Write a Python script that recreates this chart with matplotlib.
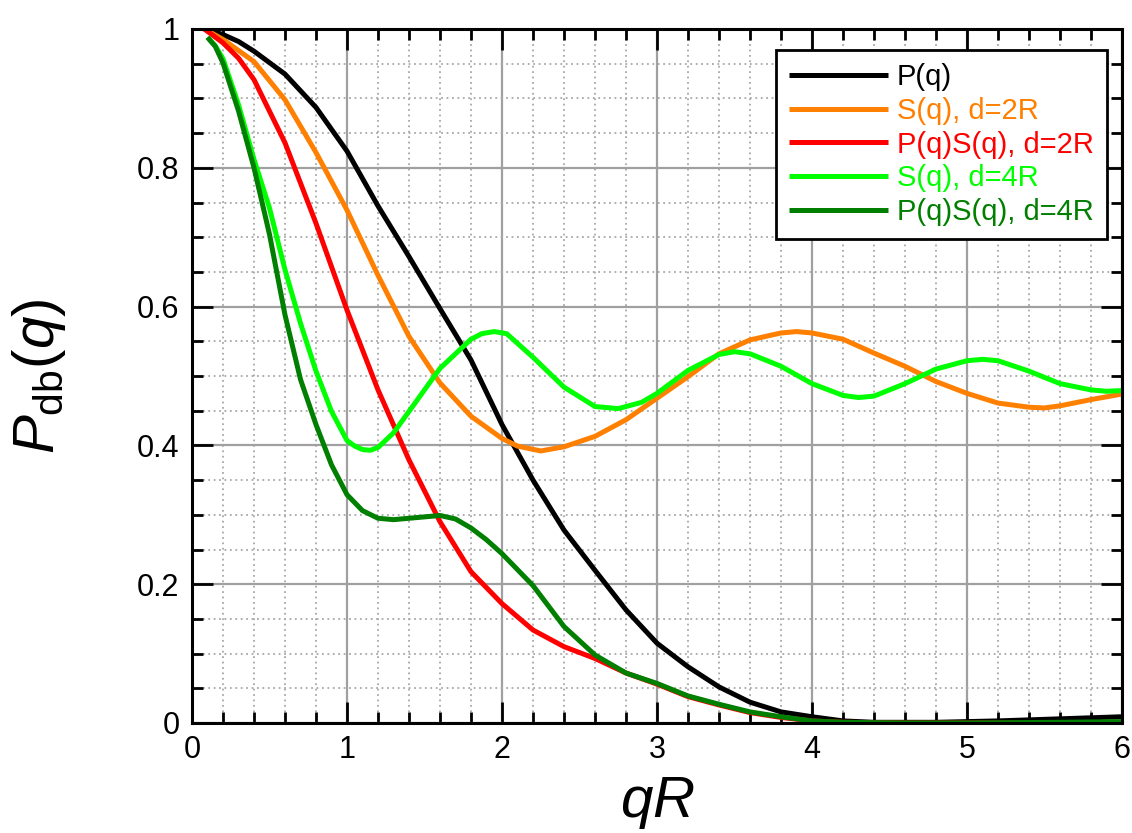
#!/usr/bin/env python3
"""Dumbbell form factor P(q), structure factors S(q) and products vs qR."""
import matplotlib
matplotlib.use("Agg")
import matplotlib.pyplot as plt
from matplotlib.ticker import MultipleLocator, FixedLocator, FuncFormatter

plt.rcParams["font.family"] = ["Liberation Sans", "DejaVu Sans"]
plt.rcParams["mathtext.fontset"] = "custom"
plt.rcParams["mathtext.rm"] = "Liberation Sans"
plt.rcParams["mathtext.it"] = "Liberation Sans:italic"

# values
p_x = [0.08, 0.2, 0.3, 0.4, 0.6, 0.8, 1.0, 1.2, 1.4, 1.6, 1.8, 2.0, 2.2, 2.4,
       2.6, 2.8, 3.0, 3.2, 3.4, 3.6, 3.8, 4.0, 4.2, 4.4, 4.8, 5.2, 5.6, 6.0]
p_y = [1.0, 0.992, 0.982, 0.968, 0.935, 0.887, 0.824, 0.745, 0.672, 0.597,
       0.523, 0.43, 0.35, 0.278, 0.22, 0.163, 0.115, 0.081, 0.052, 0.030,
       0.016, 0.009, 0.003, 0.001, 0.001, 0.003, 0.006, 0.009]

s2_x = [0.08, 0.2, 0.4, 0.6, 0.8, 1.0, 1.2, 1.4, 1.6, 1.8, 2.0, 2.1, 2.25,
        2.4, 2.6, 2.8, 3.0, 3.2, 3.4, 3.6, 3.8, 3.9, 4.0, 4.2, 4.4, 4.6, 4.8,
        5.0, 5.2, 5.4, 5.5, 5.6, 5.8, 6.0]
s2_y = [1.0, 0.985, 0.953, 0.898, 0.822, 0.739, 0.645, 0.557, 0.490, 0.442,
        0.41, 0.399, 0.392, 0.398, 0.413, 0.437, 0.468, 0.499, 0.532, 0.552,
        0.562, 0.564, 0.562, 0.553, 0.533, 0.514, 0.492, 0.475, 0.461, 0.455,
        0.454, 0.457, 0.466, 0.474]

ps2_x = [0.08, 0.2, 0.3, 0.4, 0.6, 0.8, 1.0, 1.2, 1.4, 1.6, 1.8, 2.0, 2.2,
         2.4, 2.6, 2.8, 3.0, 3.2, 3.4, 3.6, 3.8, 4.0, 4.2, 4.6, 5.0, 5.4, 6.0]
ps2_y = [1.0, 0.98, 0.958, 0.927, 0.836, 0.72, 0.595, 0.48, 0.379, 0.29,
         0.218, 0.172, 0.134, 0.11, 0.093, 0.072, 0.056, 0.038, 0.026, 0.015,
         0.008, 0.003, 0.001, 0.0, 0.0, 0.0, 0.001]

s4_x = [0.1, 0.15, 0.2, 0.3, 0.4, 0.5, 0.6, 0.7, 0.8, 0.9, 1.0, 1.05, 1.1,
        1.15, 1.2, 1.3, 1.4, 1.6, 1.8, 1.87, 1.95, 2.03, 2.1, 2.2, 2.4, 2.6,
        2.75, 2.9, 3.0, 3.2, 3.4, 3.5, 3.6, 3.8, 4.0, 4.2, 4.3, 4.4, 4.6, 4.8,
        5.0, 5.1, 5.2, 5.4, 5.6, 5.8, 5.9, 6.0]
s4_y = [0.988, 0.976, 0.957, 0.891, 0.812, 0.742, 0.653, 0.576, 0.507, 0.449,
        0.407, 0.399, 0.394, 0.393, 0.397, 0.418, 0.449, 0.511, 0.553, 0.561,
        0.564, 0.561, 0.547, 0.527, 0.484, 0.456, 0.453, 0.462, 0.475, 0.508,
        0.531, 0.535, 0.532, 0.514, 0.489, 0.472, 0.469, 0.471, 0.489, 0.510,
        0.522, 0.524, 0.522, 0.507, 0.489, 0.480, 0.478, 0.479]

ps4_x = [0.1, 0.15, 0.2, 0.3, 0.4, 0.5, 0.6, 0.7, 0.8, 0.9, 1.0, 1.1, 1.2,
         1.3, 1.4, 1.5, 1.6, 1.7, 1.8, 1.9, 2.0, 2.2, 2.4, 2.6, 2.8, 3.0,
         3.2, 3.4, 3.6, 3.8, 4.0, 4.2, 4.6, 5.0, 5.6, 6.0]
ps4_y = [0.988, 0.975, 0.951, 0.882, 0.80, 0.704, 0.588, 0.495, 0.43, 0.372,
         0.329, 0.306, 0.295, 0.293, 0.295, 0.297, 0.299, 0.294, 0.281, 0.264,
         0.244, 0.198, 0.139, 0.098, 0.072, 0.057, 0.039, 0.027, 0.016, 0.009,
         0.003, 0.001, 0.0, 0.0, 0.001, 0.002]

SERIES = [
    (p_x, p_y, "#000000", "P(q)"),
    (s2_x, s2_y, "#ff8000", "S(q), d=2R"),
    (ps2_x, ps2_y, "#ff0000", "P(q)S(q), d=2R"),
    (s4_x, s4_y, "#00ff00", "S(q), d=4R"),
    (ps4_x, ps4_y, "#007f00", "P(q)S(q), d=4R"),
]

fig = plt.figure(figsize=(11.32, 8.33), dpi=100)
ax = fig.add_axes([192 / 1132, 1 - 723 / 833, 930 / 1132, 694 / 833])

for xs, ys, col, lab in SERIES:
    ax.plot(xs, ys, color=col, lw=3.6, label=lab,
            solid_joinstyle="round", solid_capstyle="butt")

ax.set_xlim(0, 6)
ax.set_ylim(0, 1)
ax.xaxis.set_major_locator(MultipleLocator(1))
ax.xaxis.set_minor_locator(MultipleLocator(0.2))
ax.yaxis.set_major_locator(FixedLocator([0, 0.2, 0.4, 0.6, 0.8, 1.0]))
ax.yaxis.set_minor_locator(MultipleLocator(0.05))
ax.yaxis.set_major_formatter(FuncFormatter(lambda v, p: "%g" % round(v, 2)))

ax.grid(True, which="major", color="#a0a0a0", lw=1.6, ls="-")
ax.grid(True, which="minor", color="#a8a8a8", lw=1.3, ls=(0, (1, 2)))
ax.set_axisbelow(True)

ax.tick_params(which="both", direction="in", top=True, right=True,
               width=2, labelsize=22, pad=9)
ax.tick_params(which="major", length=15)
ax.tick_params(which="minor", length=8)
for s in ax.spines.values():
    s.set_linewidth(2.2)

ax.set_xlabel(r"$qR$", fontsize=42, labelpad=7)
ax.set_ylabel(r"$P_{\mathrm{db}}(q)$", fontsize=42, labelpad=50)

leg = ax.legend(loc="upper right", bbox_to_anchor=(0.984, 0.970),
                borderaxespad=0, fontsize=21, handlelength=3.4,
                handletextpad=0.3, labelspacing=0.2, borderpad=0.45,
                fancybox=False, framealpha=1, edgecolor="black")
leg.get_frame().set_linewidth(2)
for txt, (_, _, col, _) in zip(leg.get_texts(), SERIES):
    txt.set_color(col)

fig.savefig("out.png", dpi=100)
